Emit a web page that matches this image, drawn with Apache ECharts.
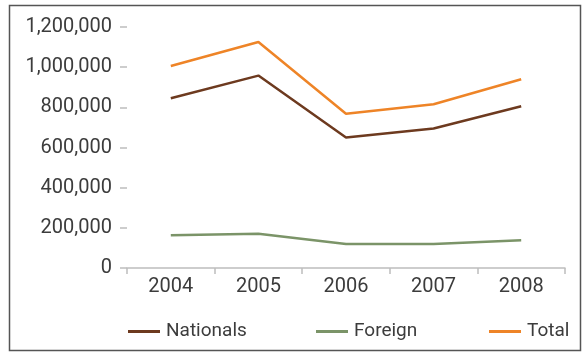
<!DOCTYPE html>
<html>
<head>
<meta charset="utf-8">
<script src="https://cdn.jsdelivr.net/npm/echarts@6/dist/echarts.min.js"></script>
<style>
  html, body { margin: 0; padding: 0; background: #fff; }
  #chart { width: 585px; height: 353px; }
</style>
</head>
<body>
<div id="chart"></div>
<script>
// Years on the category axis
const years = ['2004', '2005', '2006', '2007', '2008'];

// Visitor counts per year
const nationals = [845000, 958000, 650000, 695000, 805000];
const foreign = [163000, 171000, 120000, 120000, 138000];
const total = [1006000, 1125000, 768000, 815000, 940000];

// Value axis ticks
const yMin = 0;
const yMax = 1200000;
const yStep = 200000;

const FONT = 'Roboto';
const TEXT = '#3c3c3c';

const chart = echarts.init(document.getElementById('chart'), null, { renderer: 'canvas' });

function legendAt(name, x) {
  return {
    data: [name],
    left: x,
    top: 322,
    icon: 'rect',
    itemWidth: 32,
    itemHeight: 3,
    itemGap: 0,
    textStyle: { fontFamily: FONT, fontSize: 19, color: TEXT, padding: [0, 0, 0, 1] },
    padding: 0
  };
}

chart.setOption({
  animation: false,
  backgroundColor: '#fff',
  textStyle: { fontFamily: FONT },
  graphic: [{
    type: 'rect',
    shape: { x: 9.5, y: 5.5, width: 571, height: 345 },
    style: { fill: 'none', stroke: '#555', lineWidth: 1.5 },
    silent: true
  }],
  grid: { left: 127, right: 20, top: 27, bottom: 85 },
  legend: [
    legendAt('Nationals', 128),
    legendAt('Foreign', 316),
    legendAt('Total', 489)
  ],
  xAxis: {
    type: 'category',
    data: years,
    boundaryGap: true,
    axisLine: { show: true, lineStyle: { color: '#bdbdbd', width: 1.5 } },
    axisTick: { show: true, length: 6, lineStyle: { color: '#bdbdbd', width: 1.5 } },
    axisLabel: { fontFamily: FONT, fontSize: 20, color: TEXT, margin: 9 },
    splitLine: { show: false }
  },
  yAxis: {
    type: 'value',
    min: yMin,
    max: yMax,
    interval: yStep,
    axisLine: { show: false },
    axisTick: { show: true, length: 7, lineStyle: { color: '#bdbdbd', width: 1.5 } },
    splitLine: { show: false },
    axisLabel: {
      fontFamily: FONT, fontSize: 20, color: TEXT, margin: 15,
      formatter: v => v.toLocaleString('en-US')
    }
  },
  series: [
    {
      name: 'Nationals', type: 'line', data: nationals,
      symbol: 'none', lineStyle: { color: '#6d3a1f', width: 2.5 }, itemStyle: { color: '#6d3a1f' }
    },
    {
      name: 'Foreign', type: 'line', data: foreign,
      symbol: 'none', lineStyle: { color: '#7b9468', width: 2.5 }, itemStyle: { color: '#7b9468' }
    },
    {
      name: 'Total', type: 'line', data: total,
      symbol: 'none', lineStyle: { color: '#ee8427', width: 2.5 }, itemStyle: { color: '#ee8427' }
    }
  ]
});
</script>
</body>
</html>
